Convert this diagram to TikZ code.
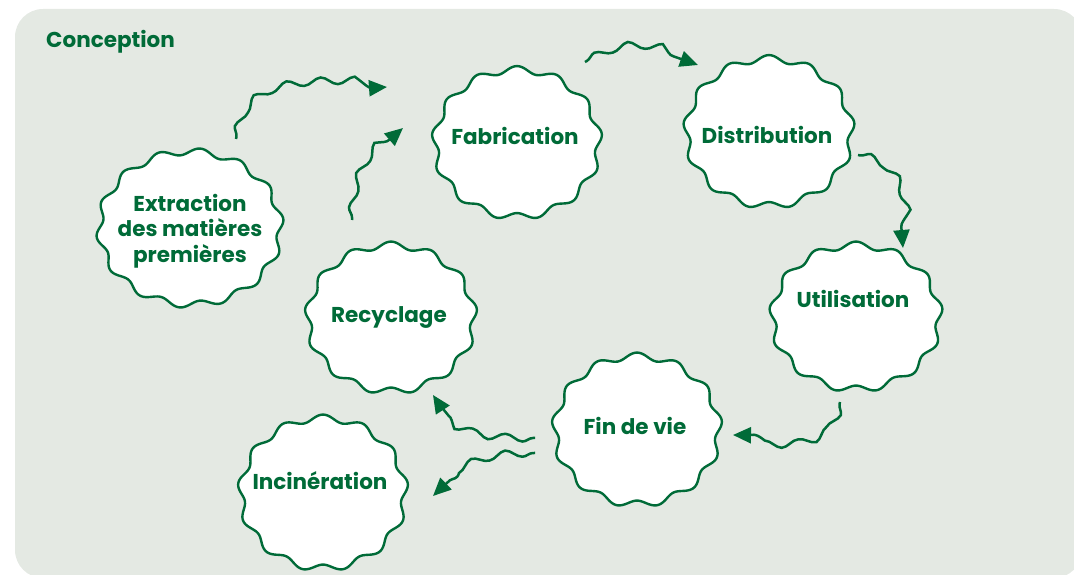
\documentclass[tikz,border=0pt]{standalone}
\usepackage{fontspec}
\setmainfont{Poppins}
\usetikzlibrary{arrows.meta,decorations.pathmorphing}
\definecolor{bgc}{HTML}{E4E9E3}
\definecolor{gr}{HTML}{006B38}
\newcommand\wblob[5]{% cx, cy, rx, ry, nwaves
  \draw[blob, shift={(#1,#2)}] plot[variable=\t, domain=0:360, samples=301, smooth]
    ({(#3+3.4*sin(#5*\t))*cos(\t)}, {(#4+3.4*sin(#5*\t))*sin(\t)}) -- cycle;}
\begin{document}
\begin{tikzpicture}[x=1pt,y=1pt,
  lbl/.style={text=gr, font=\bfseries\fontsize{21.5}{25.5}\selectfont, align=center, inner sep=0pt},
  blob/.style={fill=white, draw=gr, line width=2.4pt},
  flow/.style={draw=gr, line width=2.5pt, -{Triangle[length=18pt,width=16pt]}, decorate,
    decoration={snake, amplitude=3.6pt, segment length=34pt, pre length=2pt, post length=10pt}}]
\useasboundingbox (0,0) rectangle (1074,575);
\fill[bgc, rounded corners=28pt] (15,-3) rectangle (1082,566);
\node[lbl, anchor=base west] (conc) at (46,527) {Conception};
% blobs
\wblob{190}{347}{90.5}{76.5}{14}
\wblob{517}{432}{82}{73.5}{13}
\wblob{769}{443}{82.5}{73.5}{13}
\wblob{856}{258}{83.5}{72}{13}
\wblob{637}{145}{82}{74}{13}
\wblob{391}{257}{83}{73}{13}
\wblob{323}{82}{82}{75}{13}
% labels
\node[lbl, anchor=center] (extr) at (190,344) {Extraction\\des matières\\premières};
\node[lbl, anchor=base] (fabr) at (515,430) {Fabrication};
\node[lbl, anchor=base] (dist) at (767,431) {Distribution};
\node[lbl, anchor=base] (util) at (853,267) {Utilisation};
\node[lbl, anchor=base] (fin) at (635,140) {Fin de vie};
\node[lbl, anchor=base] (recy) at (389,252) {Recyclage};
\node[lbl, anchor=base] (inci) at (320,85) {Incinération};
% arrow ends
\coordinate (a1s) at (236,436); \coordinate (a1e) at (387,488);
\coordinate (a2s) at (352,355); \coordinate (a2e) at (403,447);
\coordinate (a3s) at (585,513); \coordinate (a3e) at (698,510);
\coordinate (a4s) at (858,420); \coordinate (a4e) at (903,327);
\coordinate (a5s) at (840,173); \coordinate (a5e) at (733,140);
\coordinate (a6s) at (535,137); \coordinate (a6e) at (433,180);
\coordinate (a7s) at (535,122); \coordinate (a7e) at (433,79);
\draw[flow] (a1s) to[out=80,in=185] (a1e);
\draw[flow] (a2s) to[out=88,in=220] (a2e);
\draw[flow] (a3s) to[out=30,in=160] (a3e);
\draw[flow] (a4s) to[out=-10,in=95] (a4e);
\draw[flow] (a5s) to[out=-100,in=0] (a5e);
\draw[flow] (a6s) to[out=180,in=-60] (a6e);
\draw[flow] (a7s) to[out=180,in=45] (a7e);
\end{tikzpicture}
\end{document}
